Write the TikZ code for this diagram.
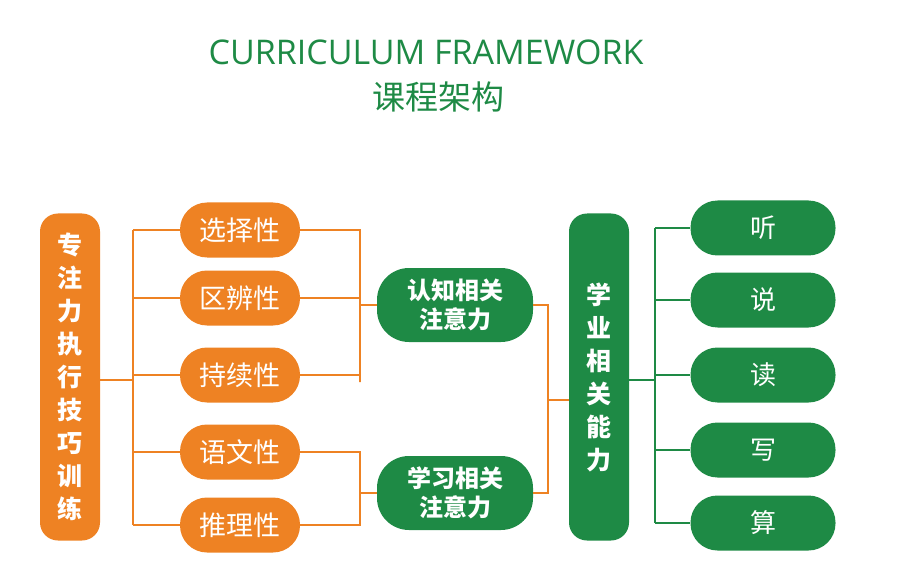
\documentclass[tikz,border=0pt]{standalone}
\usepackage{fontspec}
\setmainfont{Open Sans}
\newfontfamily\cjk{Noto Sans CJK SC}
\definecolor{og}{HTML}{EE8223}
\definecolor{gr}{HTML}{1E8A45}
\begin{document}
\begin{tikzpicture}[x=1pt,y=-1pt,
  opill/.style={fill=og,rounded corners=27pt,minimum width=120pt,minimum height=55pt,text=white,font=\cjk\fontsize{27}{30}\selectfont},
  gpill/.style={fill=gr,rounded corners=27pt,minimum width=145pt,minimum height=55pt,text=white,font=\cjk\fontsize{26}{30}\selectfont},
  gmid/.style={fill=gr,rounded corners=32pt,minimum width=156pt,minimum height=74pt,text=white,align=center,font=\cjk\bfseries\fontsize{24}{29}\selectfont},
  vbar/.style={rounded corners=18pt,minimum width=60pt,minimum height=327pt,text=white,align=center,font=\cjk\bfseries\fontsize{25}{33}\selectfont},
  ol/.style={draw=og,line width=2.2pt},
  gl/.style={draw=gr,line width=2.2pt}]
\useasboundingbox (0,0) rectangle (905,580);
\node[text=gr,font=\fontsize{34}{38}\selectfont] (t1) at (426,52) {CURRICULUM FRAMEWORK};
\node[text=gr,font=\cjk\fontsize{33}{38}\selectfont] (t2) at (438,97) {课程架构};
\node[vbar,fill=og] (L) at (70,377) {专\\注\\力\\执\\行\\技\\巧\\训\\练};
\node[vbar,fill=gr] (R) at (599,377) {学\\业\\相\\关\\能\\力};
\node[opill] (a1) at (240,230) {选择性};
\node[opill] (a2) at (240,298) {区辨性};
\node[opill] (a3) at (240,375) {持续性};
\node[opill] (a4) at (240,452) {语文性};
\node[opill] (a5) at (240,525) {推理性};
\node[gmid] (m1) at (455,305) {认知相关\\注意力};
\node[gmid] (m2) at (455,493) {学习相关\\注意力};
\node[gpill] (b1) at (763,228) {听};
\node[gpill] (b2) at (763,300) {说};
\node[gpill] (b3) at (763,375) {读};
\node[gpill] (b4) at (763,450) {写};
\node[gpill] (b5) at (763,523) {算};
\coordinate (jl) at (133,380);
\draw[ol] (L.east|-jl) -- (jl);
\draw[ol] (133,230) -- (133,525);
\foreach \i in {1,...,5}{\draw[ol] (133,0|-a\i) -- (a\i.west);}
\draw[ol] (a1.east) -- (360,230) -- (360,382) -- (a3.east -| 360,0);
\draw[ol] (a3.east) -- (360,375);
\draw[ol] (a2.east) -- (360,298);
\draw[ol] (360,305) -- (m1.west);
\draw[ol] (a4.east) -- (360,452) -- (360,525) -- (a5.east);
\draw[ol] (360,493) -- (m2.west);
\draw[ol] (m1.east) -- (548,305) -- (548,493) -- (m2.east);
\draw[ol] (548,400) -- (R.west|-0,400);
\draw[gl] (R.east|-0,380) -- (655,380);
\draw[gl] (655,228) -- (655,523);
\foreach \i in {1,...,5}{\draw[gl] (655,0|-b\i) -- (b\i.west);}
\end{tikzpicture}
\end{document}
